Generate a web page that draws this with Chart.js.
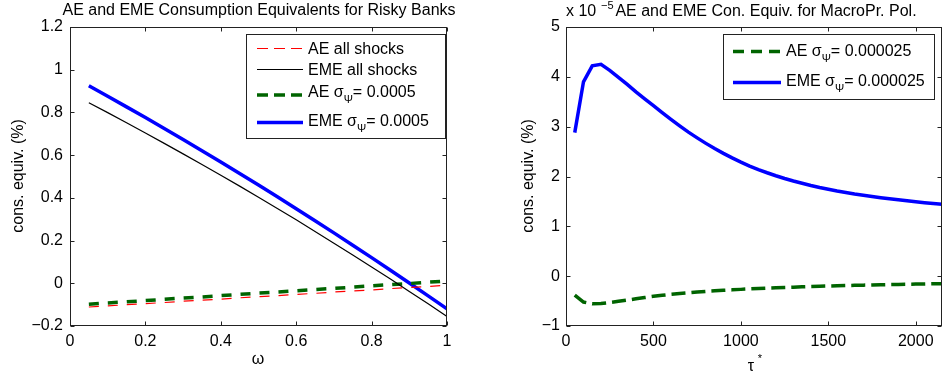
<!DOCTYPE html>
<html>
<head>
<meta charset="utf-8">
<script src="https://cdn.jsdelivr.net/npm/chart.js@4.4.1/dist/chart.umd.min.js"></script>
<style>
  body { margin: 0; background: #fff; }
  #wrap { position: relative; width: 942px; height: 374px; }
  canvas { position: absolute; top: 0; }
</style>
</head>
<body>
<div id="wrap">
  <canvas id="riskyChart" width="471" height="374" style="left:0"></canvas>
  <canvas id="macroChart" width="471" height="374" style="left:471px"></canvas>
</div>
<script>
// ---- data: consumption equivalents vs omega (risky banks) ----
const omega = [0.05, 0.10, 0.15, 0.20, 0.25, 0.30, 0.35, 0.40, 0.45, 0.50,
               0.55, 0.60, 0.65, 0.70, 0.75, 0.80, 0.85, 0.90, 0.95, 1.00];
const aeAllShocks  = [-0.111, -0.106, -0.100, -0.095, -0.090, -0.084, -0.079, -0.074, -0.068, -0.063,
                      -0.058, -0.052, -0.047, -0.041, -0.036, -0.031, -0.025, -0.020, -0.015, -0.009];
const emeAllShocks = [0.845, 0.799, 0.752, 0.704, 0.655, 0.606, 0.556, 0.506, 0.455, 0.403,
                      0.350, 0.297, 0.243, 0.188, 0.132, 0.076, 0.020, -0.038, -0.096, -0.155];
const aeSigma      = [-0.098, -0.092, -0.087, -0.081, -0.075, -0.069, -0.064, -0.058, -0.052, -0.046,
                      -0.041, -0.035, -0.029, -0.024, -0.018, -0.012, -0.006, -0.001, 0.005, 0.011];
const emeSigma     = [0.925, 0.876, 0.826, 0.776, 0.725, 0.673, 0.621, 0.568, 0.514, 0.460,
                      0.405, 0.349, 0.293, 0.236, 0.178, 0.120, 0.061, 0.001, -0.059, -0.120];

// ---- data: consumption equivalents vs tau* (macroprudential policy, x 1e-5) ----
const tau = [50, 100, 150, 200, 250, 300, 350, 400, 450, 500, 550, 600, 650, 700, 750,
             800, 850, 900, 950, 1000, 1050, 1100, 1150, 1200, 1250, 1300, 1350, 1400, 1450,
             1500, 1550, 1600, 1650, 1700, 1750, 1800, 1850, 1900, 1950, 2000, 2050, 2100, 2150];
const aeMacro = [-0.38, -0.52, -0.555, -0.55, -0.53, -0.505, -0.48, -0.455, -0.43, -0.405, -0.385, -0.365, -0.35, -0.335, -0.32,
                 -0.305, -0.295, -0.285, -0.275, -0.265, -0.255, -0.248, -0.24, -0.233, -0.226, -0.22, -0.214, -0.208, -0.203,
                 -0.198, -0.193, -0.188, -0.184, -0.18, -0.176, -0.172, -0.168, -0.165, -0.162, -0.159, -0.156, -0.153, -0.15];
const emeMacro = [2.88, 3.90, 4.22, 4.25, 4.13, 3.99, 3.85, 3.70, 3.56, 3.42, 3.28, 3.145, 3.015, 2.89, 2.775,
                  2.665, 2.56, 2.465, 2.375, 2.29, 2.21, 2.14, 2.075, 2.015, 1.96, 1.91, 1.865, 1.82, 1.78,
                  1.745, 1.71, 1.68, 1.65, 1.625, 1.60, 1.575, 1.553, 1.532, 1.512, 1.493, 1.475, 1.458, 1.442];

// ---- tick labels ----
const riskyXTicks = [0, 0.2, 0.4, 0.6, 0.8, 1];
const riskyYTicks = [-0.2, 0, 0.2, 0.4, 0.6, 0.8, 1, 1.2];
const macroXTicks = [0, 500, 1000, 1500, 2000];
const macroYTicks = [-1, 0, 1, 2, 3, 4, 5];

const FONT = '"Liberation Sans", Arial, Helvetica, sans-serif';
Chart.defaults.font.family = FONT;
Chart.defaults.font.size = 16;
Chart.defaults.color = '#000';

const RED = '#ff0000', BLACK = '#000000', GREEN = '#006400', BLUE = '#0000ff';

function pts(xs, ys) {
  return xs.map((x, i) => ({ x: x, y: ys[i] }));
}

function fmt(v) {
  return String(v).replace('-', '\u2212');
}

// text with an optional subscript, e.g. "AE σ" + "Ψ" + "= 0.0005"
function richText(ctx, x, y, parts) {
  ctx.textBaseline = 'alphabetic';
  ctx.textAlign = 'left';
  parts.forEach(p => {
    ctx.font = (p.size || 16) + 'px ' + FONT;
    ctx.fillText(p.t, x, y + (p.dy || 0));
    x += ctx.measureText(p.t).width;
  });
}

// MATLAB-like box with inward ticks on all four sides
const boxAxes = {
  id: 'boxAxes',
  afterDatasetsDraw(chart) {
    const { ctx, chartArea: a, scales } = chart;
    const L = Math.round(a.left) + 0.5, R = Math.round(a.right) - 0.5;
    const T = Math.round(a.top) + 0.5, B = Math.round(a.bottom) - 0.5;
    ctx.save();
    ctx.strokeStyle = '#222';
    ctx.lineWidth = 1;
    ctx.beginPath();
    scales.x.ticks.forEach(t => {
      const px = Math.round(scales.x.getPixelForValue(t.value)) + 0.5;
      ctx.moveTo(px, B); ctx.lineTo(px, B - 4);
      ctx.moveTo(px, T); ctx.lineTo(px, T + 4);
    });
    scales.y.ticks.forEach(t => {
      const py = Math.round(scales.y.getPixelForValue(t.value)) + 0.5;
      ctx.moveTo(L, py); ctx.lineTo(L + 4, py);
      ctx.moveTo(R, py); ctx.lineTo(R - 4, py);
    });
    ctx.stroke();
    ctx.strokeRect(L, T, R - L, B - T);
    ctx.restore();
  }
};

// titles, axis labels and boxed legend
const annotations = {
  id: 'annotations',
  afterDraw(chart) {
    const o = chart.options.plugins.annotations;
    const ctx = chart.ctx;
    ctx.save();
    ctx.fillStyle = '#000';
    o.texts.forEach(t => {
      ctx.save();
      ctx.translate(t.x, t.y);
      if (t.rotate) ctx.rotate(t.rotate);
      ctx.font = (t.size || 16) + 'px ' + FONT;
      ctx.textAlign = t.align || 'center';
      ctx.textBaseline = 'alphabetic';
      ctx.fillText(t.t, 0, 0);
      ctx.restore();
    });
    const lg = o.legend;
    ctx.fillStyle = '#fff';
    ctx.fillRect(lg.x0, lg.y0, lg.x1 - lg.x0, lg.y1 - lg.y0);
    ctx.strokeStyle = '#222';
    ctx.lineWidth = 1;
    ctx.strokeRect(lg.x0 + 0.5, lg.y0 + 0.5, lg.x1 - lg.x0, lg.y1 - lg.y0);
    lg.rows.forEach(r => {
      ctx.save();
      ctx.strokeStyle = r.color;
      ctx.lineWidth = r.width;
      ctx.setLineDash(r.dash || []);
      ctx.beginPath();
      ctx.moveTo(lg.s0, r.ly);
      ctx.lineTo(lg.s1, r.ly);
      ctx.stroke();
      ctx.restore();
      ctx.fillStyle = '#000';
      richText(ctx, lg.tx, r.ty, r.parts);
    });
    ctx.restore();
  }
};

function fixedAxes(yWidth, xHeight) {
  return {
    y: { afterFit: s => { s.width = yWidth; } },
    x: { afterFit: s => { s.height = xHeight; } }
  };
}

const fitR = fixedAxes(70, 48);
new Chart(document.getElementById('riskyChart'), {
  type: 'line',
  data: {
    datasets: [
      { label: 'AE all shocks', data: pts(omega, aeAllShocks), borderColor: RED, borderWidth: 1.2, borderDash: [10, 9] },
      { label: 'EME all shocks', data: pts(omega, emeAllShocks), borderColor: BLACK, borderWidth: 1.2 },
      { label: 'AE sigma', data: pts(omega, aeSigma), borderColor: GREEN, borderWidth: 3.5, borderDash: [10, 9] },
      { label: 'EME sigma', data: pts(omega, emeSigma), borderColor: BLUE, borderWidth: 3.5 }
    ]
  },
  options: {
    responsive: false,
    animation: false,
    devicePixelRatio: 1,
    layout: { padding: { top: 27, right: 24, bottom: 0, left: 0 } },
    elements: { point: { radius: 0 }, line: { tension: 0 } },
    scales: {
      x: {
        type: 'linear', min: 0, max: 1,
        afterBuildTicks: s => { s.ticks = riskyXTicks.map(v => ({ value: v })); },
        afterFit: fitR.x.afterFit,
        grid: { display: false, drawTicks: false },
        border: { display: false },
        ticks: { padding: 6, callback: v => fmt(v) }
      },
      y: {
        type: 'linear', min: -0.2, max: 1.2,
        afterBuildTicks: s => { s.ticks = riskyYTicks.map(v => ({ value: v })); },
        afterFit: fitR.y.afterFit,
        grid: { display: false, drawTicks: false },
        border: { display: false },
        ticks: { padding: 7, callback: v => fmt(v) }
      }
    },
    plugins: {
      legend: { display: false },
      tooltip: { enabled: false },
      annotations: {
        texts: [
          { t: 'AE and EME Consumption Equivalents for Risky Banks', x: 259, y: 15 },
          { t: 'cons. equiv. (%)', x: 22.5, y: 176, rotate: -Math.PI / 2 },
          { t: '\u03c9', x: 258, y: 364 }
        ],
        legend: {
          x0: 246, y0: 34, x1: 445, y1: 138, s0: 257, s1: 303, tx: 308,
          rows: [
            { color: RED, width: 1.2, dash: [11, 6], ly: 48.5, ty: 54, parts: [{ t: 'AE all shocks' }] },
            { color: BLACK, width: 1.2, ly: 69.5, ty: 75, parts: [{ t: 'EME all shocks' }] },
            { color: GREEN, width: 3.5, dash: [11, 6], ly: 95, ty: 97,
              parts: [{ t: 'AE \u03c3' }, { t: '\u03a8', size: 11, dy: 6 }, { t: '= 0.0005' }] },
            { color: BLUE, width: 3.5, ly: 122.5, ty: 126,
              parts: [{ t: 'EME \u03c3' }, { t: '\u03a8', size: 11, dy: 6 }, { t: '= 0.0005' }] }
          ]
        }
      }
    }
  },
  plugins: [boxAxes, annotations]
});

const fitM = fixedAxes(95, 48);
new Chart(document.getElementById('macroChart'), {
  type: 'line',
  data: {
    datasets: [
      { label: 'AE sigma', data: pts(tau, aeMacro), borderColor: GREEN, borderWidth: 3.5, borderDash: [14, 6] },
      { label: 'EME sigma', data: pts(tau, emeMacro), borderColor: BLUE, borderWidth: 3.5 }
    ]
  },
  options: {
    responsive: false,
    animation: false,
    devicePixelRatio: 1,
    layout: { padding: { top: 27, right: 0, bottom: 0, left: 0 } },
    elements: { point: { radius: 0 }, line: { tension: 0 } },
    scales: {
      x: {
        type: 'linear', min: 0, max: 2150,
        afterBuildTicks: s => { s.ticks = macroXTicks.map(v => ({ value: v })); },
        afterFit: fitM.x.afterFit,
        grid: { display: false, drawTicks: false },
        border: { display: false },
        ticks: { padding: 6, callback: v => fmt(v) }
      },
      y: {
        type: 'linear', min: -1, max: 5,
        afterBuildTicks: s => { s.ticks = macroYTicks.map(v => ({ value: v })); },
        afterFit: fitM.y.afterFit,
        grid: { display: false, drawTicks: false },
        border: { display: false },
        ticks: { padding: 6, callback: v => fmt(v) }
      }
    },
    plugins: {
      legend: { display: false },
      tooltip: { enabled: false },
      annotations: {
        texts: [
          { t: 'x 10', x: 95, y: 15.5, align: 'left' },
          { t: '\u22125', x: 130, y: 9, size: 11, align: 'left' },
          { t: 'AE and EME Con. Equiv. for MacroPr. Pol.', x: 295, y: 15.5 },
          { t: 'cons. equiv. (%)', x: 62, y: 176, rotate: -Math.PI / 2 },
          { t: '\u03c4', x: 280, y: 371 },
          { t: '*', x: 289, y: 362, size: 11 }
        ],
        legend: {
          x0: 252, y0: 34, x1: 463, y1: 99, s0: 262, s1: 310, tx: 315,
          rows: [
            { color: GREEN, width: 3.5, dash: [11, 7], ly: 51.5, ty: 56,
              parts: [{ t: 'AE \u03c3' }, { t: '\u03a8', size: 11, dy: 6 }, { t: '= 0.000025' }] },
            { color: BLUE, width: 3.5, ly: 82.5, ty: 86,
              parts: [{ t: 'EME \u03c3' }, { t: '\u03a8', size: 11, dy: 6 }, { t: '= 0.000025' }] }
          ]
        }
      }
    }
  },
  plugins: [boxAxes, annotations]
});
</script>
</body>
</html>
